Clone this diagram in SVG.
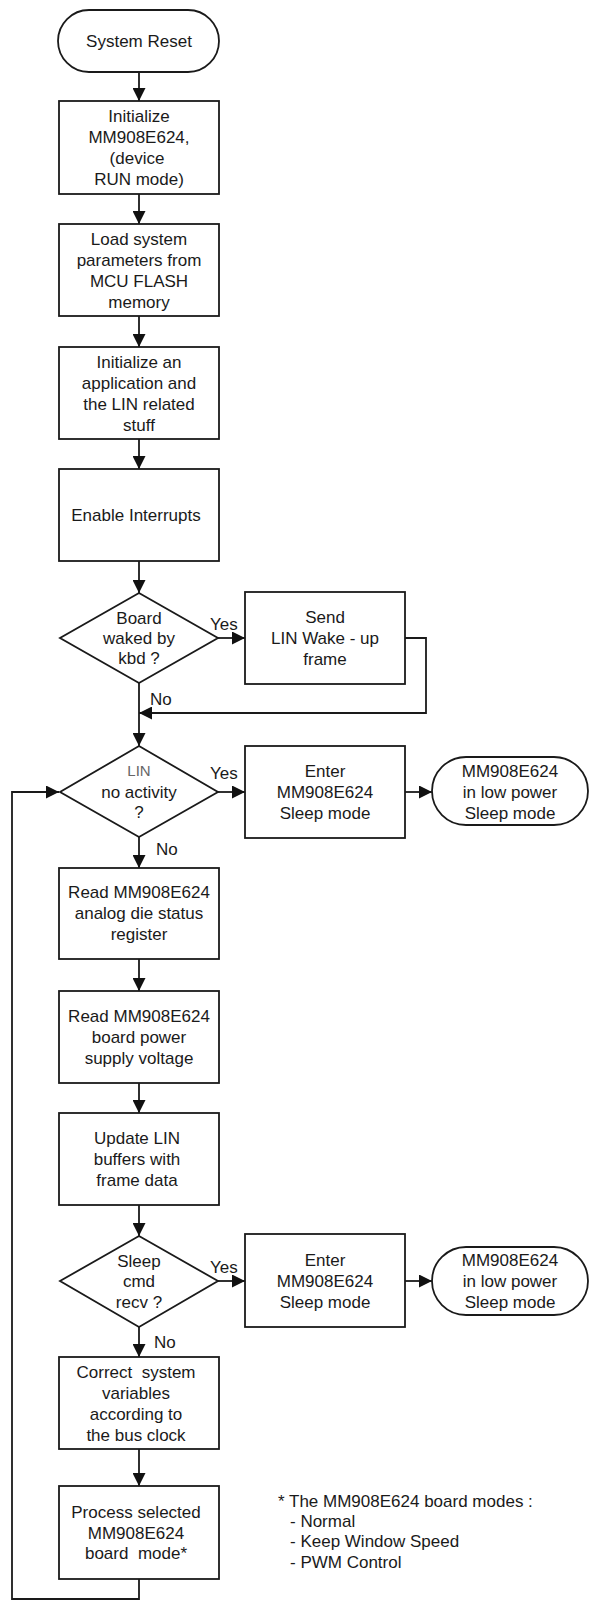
<svg xmlns="http://www.w3.org/2000/svg" width="590" height="1602" viewBox="0 0 590 1602">
<style>
.s{fill:#fff;stroke:#1a1a1a;stroke-width:1.8}
.c{fill:none;stroke:#1a1a1a;stroke-width:1.8}
text{font-family:"Liberation Sans",Arial,sans-serif;font-size:17px;fill:#1a1a1a}
.m{text-anchor:middle}
.p{white-space:pre}
.g{fill:#666;font-size:15px}
</style>
<defs>
<marker id="ah" markerWidth="13" markerHeight="13" refX="13" refY="6.5" orient="auto" markerUnits="userSpaceOnUse">
<path d="M0,0 L13,6.5 L0,13 z" fill="#111"/>
</marker>
</defs>
<rect width="590" height="1602" fill="#fff"/>

<g id="connectors">
<path class="c" d="M139,72 L139,101" marker-end="url(#ah)"/>
<path class="c" d="M139,194 L139,224" marker-end="url(#ah)"/>
<path class="c" d="M139,316 L139,347" marker-end="url(#ah)"/>
<path class="c" d="M139,439 L139,469" marker-end="url(#ah)"/>
<path class="c" d="M139,561 L139,593" marker-end="url(#ah)"/>
<path class="c" d="M218,638 L245,638" marker-end="url(#ah)"/>
<path class="c" d="M405,638 L426,638 L426,713 L139,713" marker-end="url(#ah)"/>
<path class="c" d="M139,683 L139,746" marker-end="url(#ah)"/>
<path class="c" d="M218,792 L245,792" marker-end="url(#ah)"/>
<path class="c" d="M405,792 L432,792" marker-end="url(#ah)"/>
<path class="c" d="M139,837 L139,868" marker-end="url(#ah)"/>
<path class="c" d="M139,959 L139,991" marker-end="url(#ah)"/>
<path class="c" d="M139,1083 L139,1113" marker-end="url(#ah)"/>
<path class="c" d="M139,1205 L139,1236" marker-end="url(#ah)"/>
<path class="c" d="M218,1281 L245,1281" marker-end="url(#ah)"/>
<path class="c" d="M405,1281 L432,1281" marker-end="url(#ah)"/>
<path class="c" d="M139,1327 L139,1357" marker-end="url(#ah)"/>
<path class="c" d="M139,1449 L139,1486" marker-end="url(#ah)"/>
<path class="c" d="M139,1579 L139,1599 L12,1599 L12,792 L59,792" marker-end="url(#ah)"/>
<text x="210" y="630">Yes</text>
<text x="150" y="705">No</text>
<text x="210" y="779">Yes</text>
<text x="156" y="855">No</text>
<text x="210" y="1273">Yes</text>
<text x="154" y="1348">No</text>
</g>

<g id="n_reset">
<rect class="s" x="58" y="10" width="161" height="62" rx="31" ry="31"/>
<text class="m" x="139" y="47">System Reset</text>
</g>

<g id="n_init">
<rect class="s" x="59" y="101" width="160" height="93"/>
<text class="m" x="139" y="122">Initialize</text>
<text class="m" x="139" y="143">MM908E624,</text>
<text class="m" x="137" y="164">(device</text>
<text class="m" x="139" y="185">RUN mode)</text>
</g>

<g id="n_load">
<rect class="s" x="59" y="224" width="160" height="92"/>
<text class="m" x="139" y="245">Load system</text>
<text class="m" x="139" y="266">parameters from</text>
<text class="m" x="139" y="287">MCU FLASH</text>
<text class="m" x="139" y="308">memory</text>
</g>

<g id="n_app">
<rect class="s" x="59" y="347" width="160" height="92"/>
<text class="m" x="139" y="368">Initialize an</text>
<text class="m" x="139" y="389">application and</text>
<text class="m" x="139" y="410">the LIN related</text>
<text class="m" x="139" y="431">stuff</text>
</g>

<g id="n_irq">
<rect class="s" x="59" y="469" width="160" height="92"/>
<text class="m" x="136" y="521">Enable Interrupts</text>
</g>

<g id="d_kbd">
<polygon class="s" points="139,593 218,638 139,683 60,638"/>
<text class="m" x="139" y="624">Board</text>
<text class="m" x="139" y="644">waked by</text>
<text class="m" x="139" y="664">kbd ?</text>
</g>

<g id="n_wake">
<rect class="s" x="245" y="592" width="160" height="92"/>
<text class="m" x="325" y="623">Send</text>
<text class="m" x="325" y="644">LIN Wake - up</text>
<text class="m" x="325" y="665">frame</text>
</g>

<g id="d_lin">
<polygon class="s" points="139,746 218,792 139,837 60,792"/>
<text class="m g" x="139" y="776">LIN</text>
<text class="m" x="139" y="798">no activity</text>
<text class="m" x="139" y="818">?</text>
</g>

<g id="n_sleep1">
<rect class="s" x="245" y="746" width="160" height="92"/>
<text class="m" x="325" y="777">Enter</text>
<text class="m" x="325" y="798">MM908E624</text>
<text class="m" x="325" y="819">Sleep mode</text>
</g>

<g id="t_sleep1">
<rect class="s" x="432" y="757" width="156" height="68" rx="34" ry="34"/>
<text class="m" x="510" y="777">MM908E624</text>
<text class="m" x="510" y="798">in low power</text>
<text class="m" x="510" y="819">Sleep mode</text>
</g>

<g id="n_status">
<rect class="s" x="59" y="868" width="160" height="91"/>
<text class="m" x="139" y="898">Read MM908E624</text>
<text class="m" x="139" y="919">analog die status</text>
<text class="m" x="139" y="940">register</text>
</g>

<g id="n_voltage">
<rect class="s" x="59" y="991" width="160" height="92"/>
<text class="m" x="139" y="1022">Read MM908E624</text>
<text class="m" x="139" y="1043">board power</text>
<text class="m" x="139" y="1064">supply voltage</text>
</g>

<g id="n_update">
<rect class="s" x="59" y="1113" width="160" height="92"/>
<text class="m" x="137" y="1144">Update LIN</text>
<text class="m" x="137" y="1165">buffers with</text>
<text class="m" x="137" y="1186">frame data</text>
</g>

<g id="d_sleep">
<polygon class="s" points="139,1236 218,1281 139,1327 60,1281"/>
<text class="m" x="139" y="1267">Sleep</text>
<text class="m" x="139" y="1287">cmd</text>
<text class="m" x="139" y="1308">recv ?</text>
</g>

<g id="n_sleep2">
<rect class="s" x="245" y="1234" width="160" height="93"/>
<text class="m" x="325" y="1266">Enter</text>
<text class="m" x="325" y="1287">MM908E624</text>
<text class="m" x="325" y="1308">Sleep mode</text>
</g>

<g id="t_sleep2">
<rect class="s" x="432" y="1247" width="156" height="68" rx="34" ry="34"/>
<text class="m" x="510" y="1266">MM908E624</text>
<text class="m" x="510" y="1287">in low power</text>
<text class="m" x="510" y="1308">Sleep mode</text>
</g>

<g id="n_correct">
<rect class="s" x="59" y="1357" width="160" height="92"/>
<text class="m p" x="136" y="1378">Correct  system</text>
<text class="m" x="136" y="1399">variables</text>
<text class="m" x="136" y="1420">according to</text>
<text class="m" x="136" y="1441">the bus clock</text>
</g>

<g id="n_process">
<rect class="s" x="59" y="1486" width="160" height="93"/>
<text class="m" x="136" y="1518">Process selected</text>
<text class="m" x="136" y="1539">MM908E624</text>
<text class="m p" x="136" y="1559">board  mode*</text>
</g>

<g id="note">
<text x="278" y="1507">* The MM908E624 board modes :</text>
<text x="290" y="1527">- Normal</text>
<text x="290" y="1547">- Keep Window Speed</text>
<text x="290" y="1568">- PWM Control</text>
</g>
</svg>
